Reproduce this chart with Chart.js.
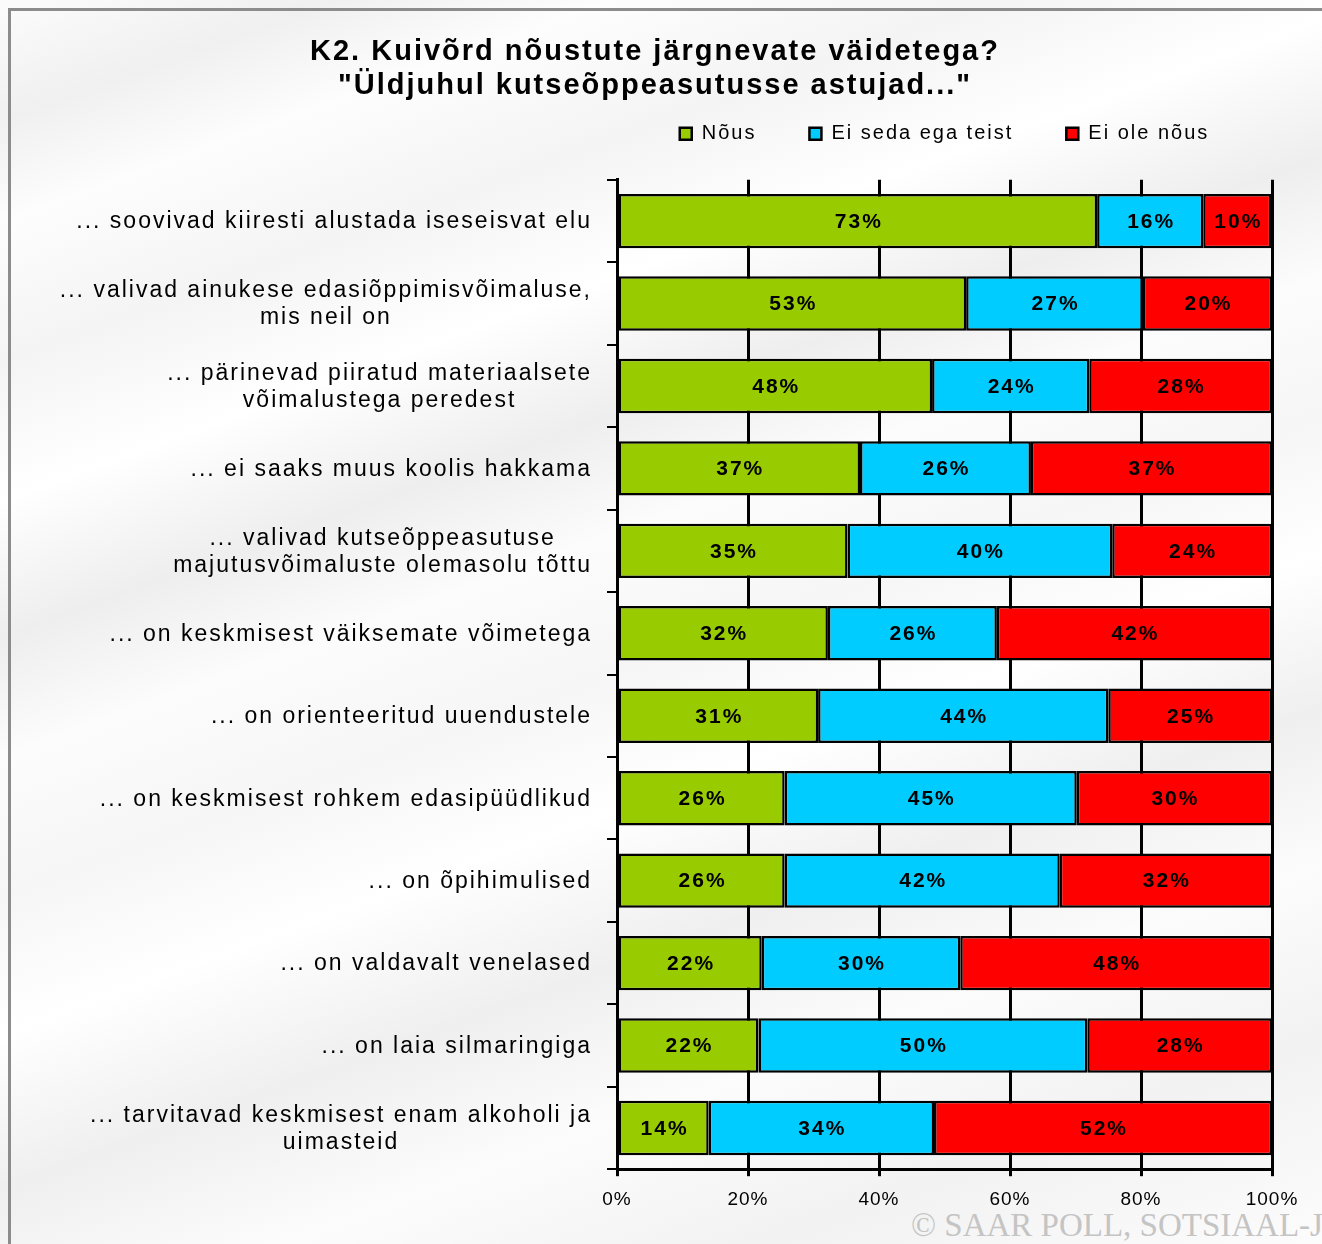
<!DOCTYPE html>
<html>
<head>
<meta charset="utf-8">
<script src="https://cdn.jsdelivr.net/npm/chart.js@4.4.0/dist/chart.umd.min.js"></script>
<style>
  html, body { margin: 0; padding: 0; }
  body {
    width: 1322px; height: 1244px; overflow: hidden; position: relative;
    background: linear-gradient(160deg, #fcfcfc 0%, #f0f0f0 7%, #fdfdfd 13%, #f4f4f4 21%, #ffffff 29%, #eeeeee 37%, #fcfcfc 44%, #f6f6f6 52%, #ffffff 60%, #efefef 69%, #fcfcfc 78%, #f2f2f2 88%, #fcfcfc 100%);
  }
  #frame { position: absolute; left: 8px; top: 8px; width: 1400px; height: 1400px; border: 3px solid #8c8c8c; box-sizing: border-box; }
  #wrap { position: absolute; left: 0; top: 0; width: 1322px; height: 1244px; }
  #copy { position: absolute; left: 911px; top: 1207px; font-family: "Liberation Serif", serif; font-size: 33px; color: #c4c4c4; white-space: nowrap; }
</style>
</head>
<body>
<div id="frame"></div>
<div id="copy">© SAAR POLL, SOTSIAAL-J</div>
<div id="wrap"><canvas id="c" width="1322" height="1244"></canvas></div>
<script>
const titleLines = ["K2. Kuivõrd nõustute järgnevate väidetega?", "\"Üldjuhul kutseõppeasutusse astujad...\""];
const categories = [
  "... soovivad kiiresti alustada iseseisvat elu",
  ["... valivad ainukese edasiõppimisvõimaluse,", "mis neil on"],
  ["... pärinevad piiratud materiaalsete", "võimalustega peredest"],
  "... ei saaks muus koolis hakkama",
  ["... valivad kutseõppeasutuse", "majutusvõimaluste olemasolu tõttu"],
  "... on keskmisest väiksemate võimetega",
  "... on orienteeritud uuendustele",
  "... on keskmisest rohkem edasipüüdlikud",
  "... on õpihimulised",
  "... on valdavalt venelased",
  "... on laia silmaringiga",
  ["... tarvitavad keskmisest enam alkoholi ja", "uimasteid"]
];
const seriesNames = ["Nõus", "Ei seda ega teist", "Ei ole nõus"];
const nous    = [73.3, 53.3, 48.1, 37.1, 35.2, 32.2, 30.7, 25.6, 25.6, 22.1, 21.6, 14.0];
const neutral = [16.2, 27.0, 24.0, 26.1, 40.4, 25.8, 44.3, 44.6, 42.0, 30.3, 50.2, 34.4];
const eiNous  = [10.4, 19.7, 27.9, 36.8, 24.4, 42.0, 25.0, 29.8, 32.4, 47.6, 28.2, 51.6];
const xTickValues = [0, 20, 40, 60, 80, 100];

const FONT = '"Liberation Sans", Arial, sans-serif';

const textPlugin = {
  id: 'textPlugin',
  beforeLayout(chart) { chart.ctx.letterSpacing = '2px'; },
  beforeDraw(chart) { chart.ctx.letterSpacing = '2px'; },
  afterDatasetsDraw(chart) {
    const ctx = chart.ctx;
    ctx.save();
    ctx.letterSpacing = '2px';
    ctx.font = 'bold 21px ' + FONT;
    ctx.fillStyle = '#000';
    ctx.textAlign = 'center';
    ctx.textBaseline = 'middle';
    chart.data.datasets.forEach((ds, di) => {
      const meta = chart.getDatasetMeta(di);
      meta.data.forEach((bar, i) => {
        const v = ds.data[i];
        const cx = (bar.x + bar.base) / 2 + 1;
        ctx.fillText(Math.round(v) + '%', cx, bar.y + 1);
      });
    });
    ctx.restore();
    chart.ctx.letterSpacing = '1px';
  },
  afterDraw(chart) {
    const ctx = chart.ctx;
    const yScale = chart.scales.y;
    const right = chart.chartArea.left - 25;
    ctx.save();
    ctx.letterSpacing = '2px';
    ctx.font = '23px ' + FONT;
    ctx.fillStyle = '#000';
    ctx.textAlign = 'center';
    ctx.textBaseline = 'middle';
    categories.forEach((lab, i) => {
      const lines = Array.isArray(lab) ? lab : [lab];
      const w = Math.max(...lines.map(l => ctx.measureText(l).width));
      const cx = right - w / 2;
      const cy = yScale.getPixelForValue(i) + 1;
      const lh = 27;
      lines.forEach((l, j) => ctx.fillText(l, cx, cy + (j - (lines.length - 1) / 2) * lh));
    });
    ctx.restore();
  }
};

new Chart(document.getElementById('c'), {
  type: 'bar',
  data: {
    labels: categories,
    datasets: [
      { label: seriesNames[0], data: nous, backgroundColor: '#99CC00' },
      { label: seriesNames[1], data: neutral, backgroundColor: '#00CCFF' },
      { label: seriesNames[2], data: eiNous, backgroundColor: '#FF0000' }
    ]
  },
  options: {
    indexAxis: 'y',
    responsive: false,
    animation: false,
    devicePixelRatio: 1,
    layout: { padding: { left: 0, right: 12, top: 0, bottom: 21 } },
    datasets: {
      bar: { borderColor: '#000', borderWidth: 2.5, borderSkipped: false, barPercentage: 0.66, categoryPercentage: 1 }
    },
    plugins: {
      tooltip: { enabled: false },
      title: {
        display: true,
        text: titleLines,
        color: '#000',
        font: { family: FONT, size: 29, weight: 'bold', lineHeight: 1.17 },
        padding: { top: 35, bottom: -32 }
      },
      legend: {
        display: true,
        position: 'top',
        fullSize: false,
        labels: {
          color: '#000',
          font: { family: FONT, size: 20 },
          boxWidth: 12,
          boxHeight: 12,
          padding: 53
        }
      }
    },
    scales: {
      x: {
        type: 'linear',
        stacked: true,
        min: 0, max: 100,
        position: 'bottom',
        afterBuildTicks(s) { s.ticks = xTickValues.map(v => ({ value: v })); },
        ticks: { z: 1, color: '#000', font: { family: FONT, size: 19 }, padding: 12, callback: v => v + '%' },
        grid: { color: '#000', lineWidth: 3, drawTicks: true, tickLength: 7 },
        border: { color: '#000', width: 3 }
      },
      y: {
        type: 'category',
        stacked: true,
        position: 'left',
        afterFit(s) { s.width = 617; },
        ticks: { display: false },
        grid: { offset: true, drawOnChartArea: false, drawTicks: true, tickLength: 10, color: '#000', lineWidth: 2 },
        border: { color: '#000', width: 3 }
      },
      spacerTop: {
        type: 'linear',
        position: 'top',
        display: true,
        afterFit(s) { s.height = 26; },
        ticks: { display: false },
        grid: { display: false, drawTicks: false },
        border: { display: false }
      },
      spacerRight: {
        type: 'linear',
        position: 'right',
        display: true,
        afterFit(s) { s.width = 38; },
        ticks: { display: false },
        grid: { display: false, drawTicks: false },
        border: { display: false }
      }
    }
  },
  plugins: [textPlugin]
});
</script>
</body>
</html>
